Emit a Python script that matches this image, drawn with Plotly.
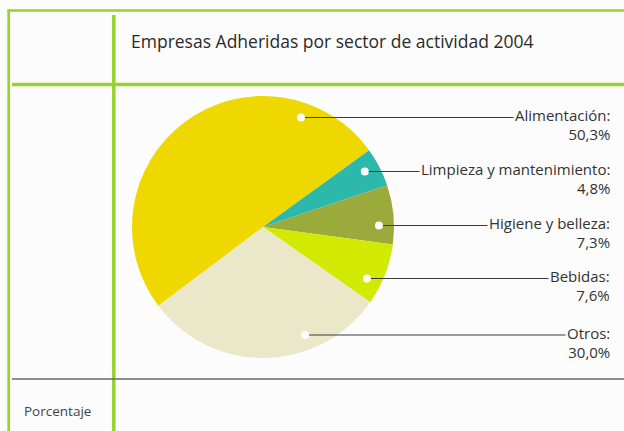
import plotly.graph_objects as go
import math

# ---- data ----
sectors = ["Alimentación", "Limpieza y mantenimiento", "Higiene y belleza", "Bebidas", "Otros"]
shares = [50.3, 4.8, 7.3, 7.6, 30.0]
share_labels = ["50,3%", "4,8%", "7,3%", "7,6%", "30,0%"]
colors = ["#eed800", "#2cb8aa", "#9aab3c", "#d2ea02", "#ebe8c9"]
title_text = "Empresas Adheridas por sector de actividad 2004"
footer_text = "Porcentaje"

# ---- layout geometry (pixels) ----
W, H = 624, 431
cx, cy, R = 263, 227, 131
label_y = [117.5, 171.5, 225.5, 278.5, 335]
label_x = 612
dot_r = 0.885 * R
dot_size = 4
green = "#98d22e"
font_family = "Open Sans, sans-serif"
fs = 15
text_h = 1.362 * fs + 1.3 * fs
box_h = 2 * (text_h - 0.681 * fs - 3.0)

fig = go.Figure()

fig.add_trace(go.Pie(
    labels=sectors, values=shares, sort=False, direction="clockwise",
    rotation=233, textinfo="none", hoverinfo="label+percent",
    marker=dict(colors=colors, line=dict(width=0)),
    domain=dict(x=[(cx - R) / W, (cx + R) / W], y=[(H - cy - R) / H, (H - cy + R) / H]),
    showlegend=False,
))

dot_x = [cx + math.sqrt(max(dot_r ** 2 - (y - cy) ** 2, 0)) for y in label_y]

annotations = []
shapes = []
for name, lab, y, dx in zip(sectors, share_labels, label_y, dot_x):
    annotations.append(dict(
        x=dx, y=y, xref="x", yref="y", text=name + ":<br>" + lab, align="right",
        showarrow=True, arrowhead=0, arrowwidth=1.2, arrowcolor="#3a3a3a",
        ax=label_x, ay=y, axref="x", ayref="y", xanchor="right", yanchor="middle",
        height=box_h, valign="bottom",
        standoff=dot_size, startstandoff=0, borderpad=1,
        font=dict(family=font_family, size=fs, color="#333333"),
    ))
    shapes.append(dict(
        type="circle", xref="x", yref="y", layer="above",
        x0=dx - dot_size, x1=dx + dot_size, y0=y - dot_size, y1=y + dot_size,
        fillcolor="white", line=dict(width=0),
    ))

annotations.append(dict(
    x=129, y=41, xref="x", yref="y", text=title_text, showarrow=False,
    xanchor="left", yanchor="middle",
    font=dict(family=font_family, size=17.5, color="#2a2a2a"),
))
annotations.append(dict(
    x=21.5, y=411, xref="x", yref="y", text=footer_text, showarrow=False,
    xanchor="left", yanchor="middle",
    font=dict(family=font_family, size=13.5, color="#444444"),
))

shapes += [
    dict(type="line", xref="x", yref="y", x0=7.5, x1=W, y0=10.5, y1=10.5, line=dict(color=green, width=2.7)),
    dict(type="line", xref="x", yref="y", x0=8.7, x1=8.7, y0=9.5, y1=H, line=dict(color=green, width=2.7)),
    dict(type="line", xref="x", yref="y", x0=113.8, x1=113.8, y0=15, y1=H, line=dict(color=green, width=3.5)),
    dict(type="line", xref="x", yref="y", x0=12, x1=W, y0=84.5, y1=84.5, line=dict(color=green, width=3.5)),
    dict(type="line", xref="x", yref="y", x0=12, x1=W, y0=379, y1=379, line=dict(color="#6a6a6a", width=1.5)),
]

fig.update_layout(
    width=W, height=H, margin=dict(l=0, r=0, t=0, b=0),
    paper_bgcolor="#fcfcfc", plot_bgcolor="rgba(0,0,0,0)",
    xaxis=dict(range=[0, W], visible=False, fixedrange=True, domain=[0, 1]),
    yaxis=dict(range=[H, 0], visible=False, fixedrange=True, domain=[0, 1]),
    annotations=annotations, shapes=shapes,
)

fig.write_html(
    "out.html",
    config={"displayModeBar": False},
    post_script="document.body.style.margin='0';document.body.style.overflow='hidden';",
)
